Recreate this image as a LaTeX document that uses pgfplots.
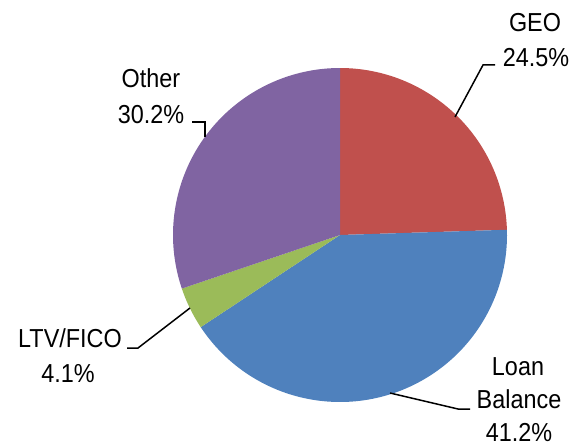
\documentclass[border=0pt]{standalone}
\usepackage{pgfplots}
\pgfplotsset{compat=1.18}
\usepackage{fontspec}
\setmainfont{Liberation Sans}[FakeStretch=0.9]
\definecolor{geo}{HTML}{C0504D}
\definecolor{loan}{HTML}{4F81BD}
\definecolor{ltv}{HTML}{9BBB59}
\definecolor{other}{HTML}{8064A2}
\tikzset{lbl/.style={font=\fontsize{26bp}{34bp}\selectfont, anchor=base, inner sep=0pt}}
% shares in percent
\def\pGEO{24.5}
\def\pLoan{41.2}
\def\pLTV{4.1}
\def\pOther{30.2}
\pgfmathsetmacro\aA{90}
\pgfmathsetmacro\aB{\aA-3.6*\pGEO}
\pgfmathsetmacro\aC{\aB-3.6*\pLoan}
\pgfmathsetmacro\aD{\aC-3.6*\pLTV}
\pgfmathsetmacro\aE{\aD-3.6*\pOther}
\begin{document}
\begin{tikzpicture}
\begin{axis}[
  width=574bp, height=445bp, scale only axis,
  xmin=0, xmax=574, ymin=0, ymax=445, y dir=reverse,
  hide axis, clip=false,
]
\path (axis cs:0,0) rectangle (axis cs:574,445);
\addplot[fill=geo, draw=none, domain=\aB:\aA, samples=100, variable=\t] ({340+167*cos(t)}, {235-167*sin(t)}) -- (axis cs:340,235) -- cycle;
\addplot[fill=loan, draw=none, domain=\aC:\aB, samples=150, variable=\t] ({340+167*cos(t)}, {235-167*sin(t)}) -- (axis cs:340,235) -- cycle;
\addplot[fill=ltv, draw=none, domain=\aD:\aC, samples=30, variable=\t] ({340+167*cos(t)}, {235-167*sin(t)}) -- (axis cs:340,235) -- cycle;
\addplot[fill=other, draw=none, domain=\aE:\aD, samples=120, variable=\t] ({340+167*cos(t)}, {235-167*sin(t)}) -- (axis cs:340,235) -- cycle;
% leader lines
\draw[line width=1.5bp] (axis cs:455,117) -- (axis cs:483,65) -- (axis cs:495,65);
\draw[line width=1.5bp] (axis cs:192,122) -- (axis cs:205,122) -- (axis cs:205,137);
\draw[line width=1.5bp] (axis cs:127,348) -- (axis cs:138,348) -- (axis cs:190,308);
\draw[line width=1.5bp] (axis cs:390,393) -- (axis cs:458,409) -- (axis cs:470,409);
% labels
\node[lbl] at (axis cs:535,32) {GEO};
\node[lbl] at (axis cs:536,67) {24.5\%};
\node[lbl] at (axis cs:151,88) {Other};
\node[lbl] at (axis cs:151,123) {30.2\%};
\node[lbl] at (axis cs:70,347) {LTV/FICO};
\node[lbl] at (axis cs:68,382) {4.1\%};
\node[lbl] at (axis cs:518,375) {Loan};
\node[lbl] at (axis cs:519,408) {Balance};
\node[lbl] at (axis cs:519,441) {41.2\%};
\end{axis}
\end{tikzpicture}
\end{document}
